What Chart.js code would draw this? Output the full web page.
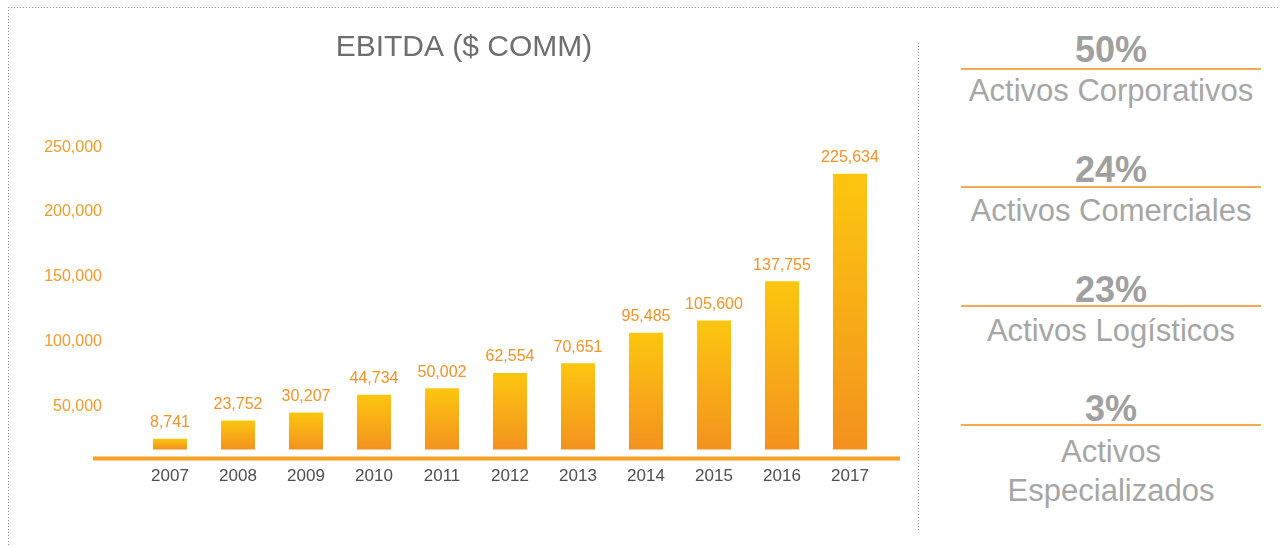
<!DOCTYPE html>
<html>
<head>
<meta charset="utf-8">
<title>EBITDA ($ COMM)</title>
<script src="https://cdn.jsdelivr.net/npm/chart.js@4.4.1/dist/chart.umd.min.js"></script>
<style>
  html, body { margin: 0; padding: 0; background: #ffffff; }
  body {
    width: 1280px; height: 547px; position: relative; overflow: hidden;
    font-family: "Liberation Sans", Arial, Helvetica, sans-serif;
  }
  #chartBox { position: absolute; left: 0; top: 0; width: 927px; height: 547px; }
  .dots-h {
    position: absolute; height: 1px;
    background-image: linear-gradient(to right, #8f8f8f 1px, transparent 1px);
    background-size: 3px 1px;
  }
  .dots-v {
    position: absolute; width: 1px;
    background-image: linear-gradient(to bottom, #8f8f8f 1px, transparent 1px);
    background-size: 1px 3px;
  }
  #frameTop { left: 8px; top: 7px; width: 1272px; }
  #frameLeft { left: 8px; top: 7px; height: 540px; }
  #divider { left: 918px; top: 43px; height: 489px; }

  .pct, .rule, .name { position: absolute; left: 961px; width: 300px; text-align: center; }
  .pct { font-size: 36px; line-height: 36px; font-weight: bold; color: #a0a0a0; }
  .rule { height: 2px; background: #f5aa52; }
  .name { font-size: 31px; line-height: 39px; color: #a6a6a6; }

  .r0.pct { top: 32px; }   .r0.rule { top: 68px; }  .r0.name { top: 71px; }
  .r1.pct { top: 152px; }  .r1.rule { top: 186px; } .r1.name { top: 191px; }
  .r2.pct { top: 272px; }  .r2.rule { top: 305px; } .r2.name { top: 311px; }
  .r3.pct { top: 391px; }  .r3.rule { top: 424px; } .r3.name { top: 432px; }
</style>
</head>
<body>
<div id="frameTop" class="dots-h"></div>
<div id="frameLeft" class="dots-v"></div>
<div id="divider" class="dots-v"></div>
<div id="chartBox"><canvas id="ebitdaChart" width="927" height="547"></canvas></div>
<div id="panel"></div>

<script>
// EBITDA per year, in millions of pesos
const years = ['2007', '2008', '2009', '2010', '2011', '2012', '2013', '2014', '2015', '2016', '2017'];
const ebitda = [8741, 23752, 30207, 44734, 50002, 62554, 70651, 95485, 105600, 137755, 225634];
const yTickValues = [50000, 100000, 150000, 200000, 250000];

// Portfolio breakdown shown beside the chart
const shareValues = [50, 24, 23, 3];
const shareLabels = ['Activos Corporativos', 'Activos Comerciales', 'Activos Logísticos', 'Activos Especializados'];

const FONT = "'Liberation Sans', Arial, Helvetica, sans-serif";
const ORANGE = '#f39a2b';
const fmt = v => Number(v).toLocaleString('en-US');

// Side panel: percentage, orange rule, asset class name
const panel = document.getElementById('panel');
shareValues.forEach((v, i) => {
  const pct = document.createElement('div');
  pct.className = 'pct r' + i;
  pct.textContent = v + '%';
  const rule = document.createElement('div');
  rule.className = 'rule r' + i;
  const name = document.createElement('div');
  name.className = 'name r' + i;
  name.textContent = shareLabels[i];
  panel.append(pct, rule, name);
});

// Each bar fades from yellow at its top to orange at its base
function barGradient(ctx) {
  const chart = ctx.chart;
  if (!chart.chartArea || ctx.type !== 'data') return '#f6a81a';
  const y = chart.scales.y;
  const top = y.getPixelForValue(ctx.raw);
  const base = y.getPixelForValue(0);
  const g = chart.ctx.createLinearGradient(0, top, 0, base);
  g.addColorStop(0, '#fcc60f');
  g.addColorStop(1, '#f3921f');
  return g;
}

// Thick orange base line running under the bars
const baseLine = {
  id: 'baseLine',
  beforeDatasetsDraw(chart) {
    const { ctx, chartArea } = chart;
    ctx.save();
    ctx.strokeStyle = '#f4a023';
    ctx.lineWidth = 4;
    ctx.beginPath();
    ctx.moveTo(chartArea.left - 43, chartArea.bottom);
    ctx.lineTo(chartArea.right + 16, chartArea.bottom);
    ctx.stroke();
    ctx.restore();
  }
};

// Value printed above every bar
const valueLabels = {
  id: 'valueLabels',
  afterDatasetsDraw(chart) {
    const { ctx } = chart;
    const meta = chart.getDatasetMeta(0);
    const values = chart.data.datasets[0].data;
    ctx.save();
    ctx.font = '16px ' + FONT;
    ctx.fillStyle = '#f39325';
    ctx.textAlign = 'center';
    ctx.textBaseline = 'middle';
    meta.data.forEach((bar, i) => {
      ctx.fillText(fmt(values[i]), bar.x, bar.y - 16);
    });
    ctx.restore();
  }
};

Chart.defaults.font.family = FONT;

new Chart(document.getElementById('ebitdaChart'), {
  type: 'bar',
  data: {
    labels: years,
    datasets: [{
      data: ebitda,
      backgroundColor: barGradient,
      borderWidth: 0,
      barPercentage: 0.5,
      categoryPercentage: 1.0,
      yAxisID: 'y'
    }]
  },
  options: {
    responsive: false,
    animation: false,
    layout: { padding: { left: 44, right: 43, top: 0, bottom: 52 } },
    plugins: {
      legend: { display: false },
      tooltip: { enabled: false },
      title: {
        display: true,
        text: 'EBITDA ($ COMM)',
        color: '#6e6e6e',
        font: { family: FONT, size: 30, weight: 'normal' },
        padding: { top: 30, bottom: 75 }
      }
    },
    scales: {
      x: {
        grid: { display: false, drawTicks: false },
        border: { display: false },
        ticks: { color: '#4e4e4e', font: { size: 17 }, padding: 8, maxRotation: 0 }
      },
      y: {
        display: false,
        min: -7500,
        max: 252500
      },
      yT: {
        type: 'linear',
        position: 'left',
        min: 9800,
        max: 254800,
        grid: { display: false, drawTicks: false },
        border: { display: false },
        afterBuildTicks: s => { s.ticks = yTickValues.map(v => ({ value: v })); },
        afterFit: s => { s.width = 92; },
        ticks: {
          color: ORANGE,
          font: { size: 16 },
          padding: 34,
          callback: v => fmt(v)
        }
      }
    }
  },
  plugins: [baseLine, valueLabels]
});
</script>
</body>
</html>
